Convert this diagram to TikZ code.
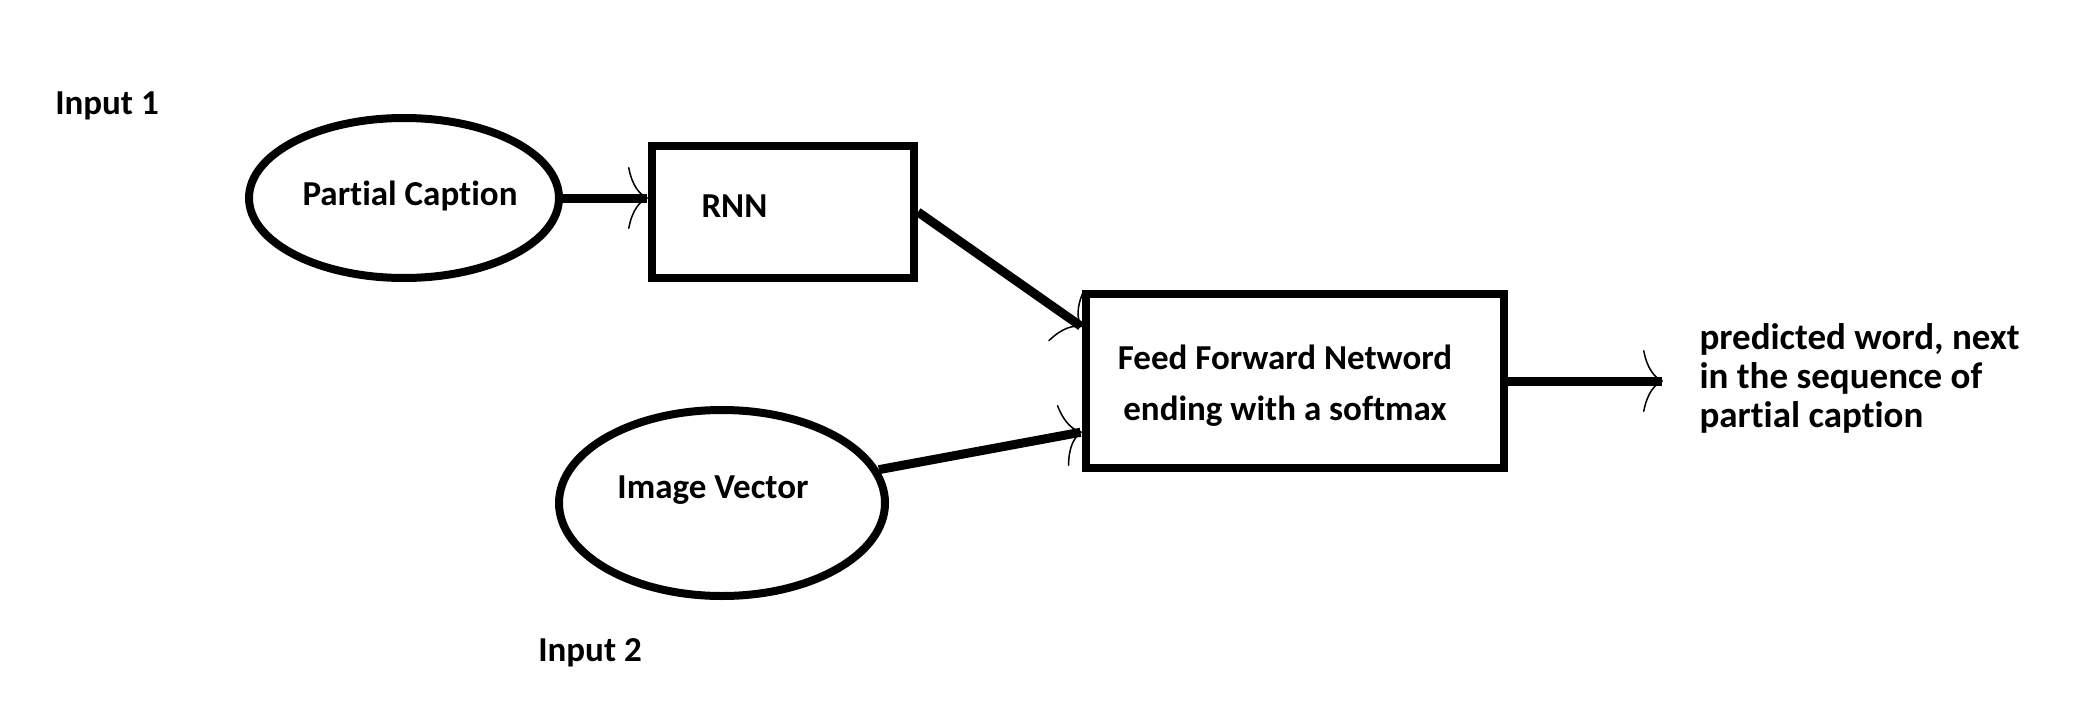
\documentclass[tikz,border=0pt]{standalone}
\usepackage{fontspec}
\setmainfont{Carlito}[Ligatures=CommonOff]
\usetikzlibrary{arrows.meta,shapes.geometric}
\tikzset{
  txt/.style={font=\fontsize{35}{42}\selectfont\bfseries, text=black},
  oval/.style={draw, ellipse, line width=8pt, inner sep=0pt},
  stepbox/.style={draw, rectangle, line width=8pt, inner sep=0pt},
  conn/.style={line width=9pt, -{To[line width=1.5pt, length=20pt, width=62pt]}},
}
\begin{document}
\begin{tikzpicture}[x=1pt,y=-1pt]
\useasboundingbox (0,0) rectangle (2078,706);
\fill[white] (0,0) rectangle (2078,706);

\node[txt] (in1) at (107,106) {Input 1};
\node[txt] (in2) at (590,653) {Input 2};

\node[oval, minimum width=310pt, minimum height=160pt] (pc) at (404,198) {};
\node[txt] (pct) at (410,196) {Partial Caption};

\node[stepbox, minimum width=262pt, minimum height=132pt] (rnn) at (783,212) {};
\node[txt, anchor=west] (rnnt) at (698,206) {RNN};

\node[stepbox, minimum width=418pt, minimum height=174pt] (ffn) at (1295,381) {};
\node[txt, align=center, font=\fontsize{35}{51}\selectfont\bfseries] (ffnt) at (1285,386) {Feed Forward Netword\\ending with a softmax};

\node[oval, minimum width=326pt, minimum height=186pt] (iv) at (722,503) {};
\node[txt] (ivt) at (713,490) {Image Vector};

\node[txt, anchor=west, align=left, font=\fontsize{37}{39}\selectfont\bfseries] (out) at (1696,378) {predicted word, next\\in the sequence of\\partial caption};
\coordinate (outend) at (1663,381);

\draw[conn] (pc.east) -- (pc.east -| rnn.west);
\draw[conn] (rnn.east) -- ([yshift=-37pt]ffn.north west);
\draw[conn] (iv.12) -- ([yshift=40pt]ffn.south west);
\draw[conn] (ffn.east) -- (outend);
\end{tikzpicture}
\end{document}
